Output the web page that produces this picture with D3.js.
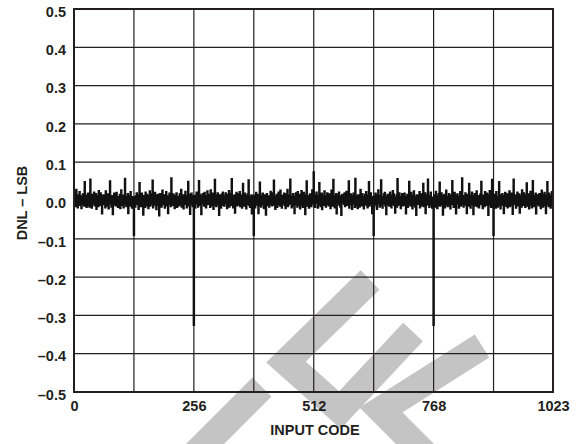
<!DOCTYPE html>
<html>
<head>
<meta charset="utf-8">
<script src="https://cdn.jsdelivr.net/npm/d3@7"></script>
<style>
  html, body { margin: 0; padding: 0; background: #fff; }
  svg { display: block; }
  text { font-family: "Liberation Sans", Arial, Helvetica, sans-serif; font-weight: bold; fill: #231f20; }
</style>
</head>
<body>
<svg id="chart" width="581" height="444"></svg>
<script>
// ---- data (DNL in milli-LSB, one value per input code 0..1023) ----
const dnlMilliLSB = [
20,-8,12,-15,5,28,-10,3,-18,9,14,-6,22,-12,0,8,-20,11,-4,16,-9,6,-14,48,-7,2,13,-17,7,-3,18,-11,
4,-16,10,55,-6,12,-19,3,15,-8,1,21,-13,6,-2,17,-22,9,-5,11,-15,25,-9,4,-12,19,-3,8,-34,13,-7,2,
14,-10,6,-18,24,-5,9,-14,2,16,-21,7,-8,50,-4,11,-16,3,12,-36,5,-9,18,-6,10,-13,1,20,-11,7,-17,4,
9,-7,15,-20,3,27,-12,6,-3,13,-18,8,-10,57,-6,4,-15,10,-2,17,-33,5,-8,12,-14,22,-5,3,-19,9,-11,6,
-90,-12,8,-16,11,-4,19,-9,2,14,-22,6,46,-7,10,-15,3,18,-11,5,-37,12,-3,9,-17,21,-6,1,15,-13,7,-20,
12,-5,24,-14,4,-9,16,-2,52,-18,8,-11,3,20,-7,13,-23,6,-4,15,-12,9,-39,2,17,-8,11,-16,5,26,-10,3,
-6,14,-19,8,-3,22,-13,5,11,-33,7,-9,18,-4,12,-15,58,-8,6,-12,16,-2,9,-20,4,13,-7,19,-17,3,10,-14,
8,-11,17,-5,2,28,-16,9,-7,14,-21,4,12,-9,23,-3,6,-18,11,-13,49,-6,3,15,-35,8,-10,18,-4,7,-15,12,
-325,-14,6,-19,13,-7,21,-3,10,-16,4,51,-9,15,-12,2,-36,11,-5,17,-8,8,-14,20,-2,12,-18,5,-10,24,-6,9,
15,-9,3,-17,27,-4,11,-13,6,18,-22,8,-6,54,-11,4,-15,13,-3,19,-10,7,-38,14,-5,10,-19,2,16,-8,21,-12,
5,-14,12,-7,19,-3,9,-20,15,-10,2,25,-16,6,-4,17,-12,56,-7,3,-18,11,-9,14,-32,7,-2,20,-13,8,-6,16,
-11,4,22,-15,7,-8,13,-19,3,44,-5,10,-14,18,-6,1,-21,12,-9,16,-4,53,-12,5,-17,9,-3,14,-34,11,-7,6,
-90,-8,13,-18,5,20,-11,7,-3,15,-33,9,-6,47,-13,4,-16,12,-2,18,-9,6,-20,14,-5,10,-37,3,17,-12,8,-4,
11,-16,6,-9,23,-4,14,-13,2,19,-8,52,-11,5,-22,10,-3,15,-17,7,-6,21,-10,3,-14,26,-5,12,-19,8,-2,13,
-7,18,-12,4,-20,9,16,-5,28,-15,6,-10,13,-3,55,-8,2,-18,11,-6,17,-13,5,-33,10,-4,19,-9,7,-16,22,-11,
6,-3,15,-21,8,-12,25,-6,10,-17,3,20,-9,14,-36,5,-4,50,-14,7,-10,12,-19,4,16,-7,9,-15,2,27,-8,11,
74,-10,5,-17,14,-6,21,-2,8,-19,12,-11,46,-4,9,-15,3,18,-23,7,-8,13,-12,24,-5,11,-16,6,-3,19,-9,4,
-13,16,-7,10,-20,3,26,-11,6,-14,54,-5,12,-18,8,-2,17,-34,9,-8,14,-4,21,-12,5,-16,11,-38,2,15,-6,10,
4,-9,19,-15,7,-3,23,-12,13,-7,2,50,-19,9,-5,16,-10,4,-22,12,-8,18,-3,7,-17,57,-6,11,-13,3,-20,14,
-5,12,-16,6,28,-9,3,-13,17,-4,10,-21,8,-7,15,-11,22,-2,5,-18,13,-6,48,-14,4,-10,19,-3,9,-33,7,-12,
-90,-15,11,-6,18,-10,4,-22,14,-3,27,-8,7,-16,12,-5,53,-12,2,-19,9,-7,16,-4,20,-13,6,-36,10,-2,15,-9,
9,-14,5,21,-7,13,-18,3,-10,25,-4,16,-12,8,-32,6,-2,14,-16,56,-8,4,-11,19,-5,10,-20,7,-3,17,-13,12,
-8,3,18,-12,9,-34,6,-4,15,-17,11,-7,49,-10,2,-14,20,-6,8,-21,13,-3,24,-11,5,-16,9,-38,14,-5,11,-9,
13,-6,22,-18,4,-9,16,-13,7,-2,44,-15,10,-7,19,-33,5,-11,14,-3,55,-9,6,-17,12,-4,21,-12,3,-19,8,-7,
-325,-9,14,-16,6,23,-5,11,-20,4,-12,17,-7,47,-14,8,-3,19,-10,5,-37,12,-6,15,-18,9,-2,26,-11,7,-15,10,
-4,17,-13,8,-21,5,14,-9,51,-6,11,-17,3,20,-12,7,-34,13,-4,16,-8,2,-19,10,-6,22,-14,6,-10,58,-3,9,
-16,7,12,-5,19,-11,3,-33,15,-8,9,-14,44,-2,13,-19,6,-10,21,-4,8,-36,11,-7,17,-13,4,-9,24,-15,5,-6,
12,-18,8,-3,16,-10,49,-7,4,-20,13,-5,10,-15,22,-9,2,-12,18,-6,9,-38,14,-3,25,-11,7,-17,5,54,-8,11,
-90,-7,15,-13,5,-19,22,-4,10,-16,8,-2,48,-12,6,-21,14,-8,3,17,-11,9,-33,12,-5,20,-14,4,-9,16,-18,7,
10,-5,24,-15,3,-11,18,-7,12,-35,6,55,-9,14,-4,8,-19,13,-2,21,-13,5,-8,16,-32,9,-6,11,-16,27,-3,6,
-12,19,-8,4,-17,13,-3,45,-14,7,-10,16,-21,5,-6,23,-11,9,-18,2,51,-7,12,-15,8,-4,18,-34,10,-9,14,-5,
7,-13,17,-4,11,-20,6,26,-9,15,-16,3,-7,20,-12,9,-33,13,-3,48,-10,5,-15,18,-6,8,-19,12,-4,22,-11,14
];
const xTickValues = [0, 256, 512, 768, 1023];
const xGridValues = [128, 256, 384, 512, 640, 768, 896];
const yTickValues = [-0.5, -0.4, -0.3, -0.2, -0.1, 0.0, 0.1, 0.2, 0.3, 0.4, 0.5];
const xTitle = "INPUT CODE";
const yTitle = "DNL – LSB";

// ---- layout ----
const svg = d3.select("#chart");
const L = 74, R = 553, T = 9, B = 392;
const x = d3.scaleLinear().domain([0, 1023]).range([L, R]);
const y = d3.scaleLinear().domain([-0.5, 0.5]).range([B, T]);
const ink = "#231f20";
const FS = 14.5;

// ---- watermark (decorative, behind everything) ----
const wm = svg.append("g").attr("fill", "none").attr("stroke", "#c4c4c4")
  .attr("stroke-width", 27).attr("stroke-linejoin", "miter").attr("stroke-linecap", "butt");
const wmPaths = [
  [[185, 464], [262, 387]],
  [[370, 280], [286, 362], [340, 410], [413, 332]],
  [[482, 346], [381, 410], [425, 454]]
];
wmPaths.forEach(p => wm.append("path").attr("d", d3.line()(p)));

// ---- grid ----
const grid = svg.append("g").attr("stroke", ink).attr("stroke-width", 1.2);
grid.selectAll("line.v").data(xGridValues).join("line")
  .attr("x1", d => x(d)).attr("x2", d => x(d)).attr("y1", T).attr("y2", B);
grid.selectAll("line.h").data(yTickValues.filter(v => v > -0.5 && v < 0.5)).join("line")
  .attr("x1", L).attr("x2", R).attr("y1", d => y(d)).attr("y2", d => y(d));

// ---- data line ----
const data = dnlMilliLSB.map((v, i) => [i, v / 1000]);
svg.append("path").datum(data)
  .attr("fill", "none").attr("stroke", "#111").attr("stroke-width", 2)
  .attr("stroke-linejoin", "miter")
  .attr("d", d3.line().curve(d3.curveStep).x(d => x(d[0])).y(d => y(d[1])));

// ---- frame ----
svg.append("rect").attr("x", L).attr("y", T).attr("width", R - L).attr("height", B - T)
  .attr("fill", "none").attr("stroke", ink).attr("stroke-width", 2);

// ---- axes (labels only) ----
const fmtY = d => (d < 0 ? "\u2013" : "") + Math.abs(d).toFixed(1);
const yAxis = d3.axisLeft(y).tickValues(yTickValues).tickSize(0).tickPadding(8).tickFormat(fmtY);
const gy = svg.append("g").attr("transform", `translate(${L},0)`).call(yAxis);
gy.select(".domain").remove();
gy.selectAll("text").attr("font-size", FS).attr("font-family", "Liberation Sans, Arial, sans-serif")
  .attr("font-weight", "bold").attr("fill", ink).attr("dy", "0.5em");

const xAxis = d3.axisBottom(x).tickValues(xTickValues).tickSize(0).tickPadding(9).tickFormat(d3.format("d"));
const gx = svg.append("g").attr("transform", `translate(0,${B})`).call(xAxis);
gx.select(".domain").remove();
gx.selectAll("text").attr("font-size", FS).attr("font-family", "Liberation Sans, Arial, sans-serif")
  .attr("font-weight", "bold").attr("fill", ink);

svg.append("text").attr("x", 315).attr("y", 435).attr("text-anchor", "middle")
  .attr("font-size", FS).text(xTitle);
svg.append("text").attr("transform", `translate(27,203) rotate(-90)`)
  .attr("text-anchor", "middle").attr("font-size", FS).text(yTitle);
</script>
</body>
</html>
